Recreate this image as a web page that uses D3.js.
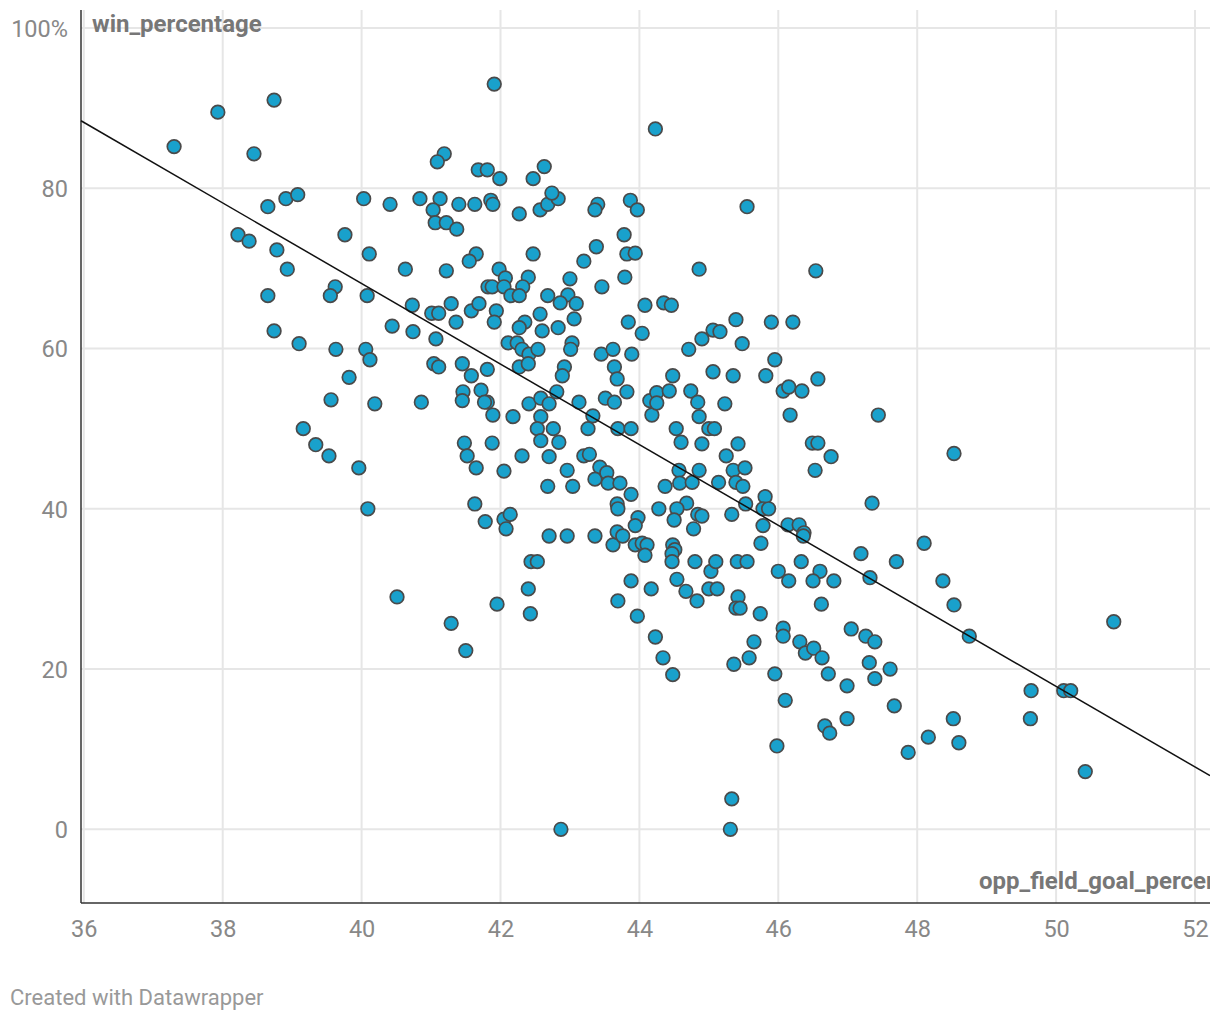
<!DOCTYPE html>
<html>
<head>
<meta charset="utf-8">
<script src="https://cdn.jsdelivr.net/npm/d3@7"></script>
<style>
  body { margin: 0; background: #fff; font-family: Roboto, "Noto Sans", sans-serif; }
  .tick text { fill: #888; font-size: 23.5px; font-family: Roboto, sans-serif; }
  .axis-title { fill: #777; font-size: 24px; font-weight: bold; }
  .credit { fill: #999; font-size: 22px; }
</style>
</head>
<body>
<div class="view1"></div>
<script>
// opponent field goal percentage (x) and win percentage (y), one entry per team season
const oppFgPct = [
  37.30, 37.93, 38.74, 38.45, 38.65, 38.91, 39.08, 40.03, 40.41, 38.22,
  38.38, 38.78, 38.93, 39.76, 40.11, 39.62, 39.55, 40.08, 38.65, 40.44,
  38.74, 40.63, 39.10, 39.63, 40.06, 40.12, 39.82, 39.56, 40.19, 39.16,
  39.34, 39.53, 39.96, 40.09, 40.51, 41.91, 41.19, 41.09, 41.68, 41.81,
  41.99, 42.47, 42.63, 44.23, 40.84, 41.13, 41.03, 41.40, 41.63, 41.86,
  41.89, 42.27, 42.57, 42.68, 42.83, 42.74, 43.40, 43.36, 43.87, 43.97,
  41.06, 41.22, 41.37, 43.78, 43.38, 43.20, 43.82, 43.94, 42.47, 41.65,
  41.55, 41.22, 41.98, 42.07, 41.82, 41.88, 42.05, 42.40, 42.32, 42.15,
  42.27, 43.00, 43.79, 43.46, 42.68, 42.97, 42.86, 43.09, 40.73, 41.01,
  41.11, 41.29, 41.58, 41.69, 41.94, 41.91, 41.36, 42.35, 42.27, 42.57,
  43.06, 42.83, 42.60, 43.84, 44.08, 40.74, 45.55, 44.86, 46.54, 44.35,
  44.46, 45.39, 45.90, 46.21, 45.06, 45.16, 41.07, 41.04, 41.11, 41.45,
  41.58, 41.81, 40.86, 41.46, 41.45, 41.72, 41.81, 41.77, 41.89, 42.18,
  41.48, 41.52, 41.88, 41.65, 42.05, 42.31, 42.11, 42.24, 42.31, 42.41,
  42.54, 42.27, 42.40, 43.03, 43.01, 42.92, 42.89, 42.81, 42.41, 42.58,
  42.70, 43.13, 42.58, 42.53, 42.76, 42.58, 42.84, 42.70, 42.96, 42.68,
  43.04, 43.26, 43.33, 43.20, 43.28, 43.45, 43.62, 43.89, 43.64, 43.68,
  43.82, 43.51, 43.64, 43.69, 43.88, 43.43, 43.36, 43.53, 43.55, 43.72,
  43.88, 43.68, 43.69, 44.04, 44.15, 44.18, 41.63, 41.78, 42.05, 42.14,
  42.08, 42.70, 42.96, 43.36, 43.62, 43.68, 43.76, 43.98, 43.94, 43.94,
  44.04, 44.11, 44.08, 42.44, 42.53, 43.88, 42.40, 44.71, 44.90, 45.48,
  45.95, 45.82, 45.06, 45.35, 44.48, 44.25, 44.43, 44.25, 44.74, 44.84,
  45.23, 44.86, 44.53, 44.60, 44.90, 45.00, 45.08, 45.42, 45.25, 46.07,
  46.15, 46.34, 46.57, 46.17, 47.44, 46.49, 46.57, 46.76, 46.53, 44.57,
  44.86, 44.58, 44.76, 44.37, 45.14, 45.35, 45.52, 45.39, 45.49, 44.68,
  44.28, 44.54, 44.50, 44.84, 44.90, 45.33, 45.53, 45.81, 45.78, 45.86,
  45.78, 44.78, 45.75, 46.14, 46.30, 46.37, 46.36, 47.19, 47.35, 47.70,
  44.48, 44.51, 44.47, 44.47, 44.80, 45.03, 45.10, 45.41, 45.55, 44.54,
  44.67, 45.00, 45.12, 46.00, 46.15, 46.33, 46.60, 46.50, 46.80, 47.32,
  48.53, 48.10, 48.37, 41.29, 41.50, 41.95, 42.43, 42.87, 43.69, 43.97,
  44.17, 44.83, 45.42, 45.39, 45.45, 45.74, 46.62, 44.23, 44.34, 44.48,
  45.36, 45.58, 45.65, 45.95, 46.07, 46.07, 46.10, 45.98, 46.31, 46.39,
  46.51, 46.63, 46.72, 46.99, 47.05, 47.26, 47.39, 47.31, 47.39, 47.61,
  47.67, 46.67, 46.74, 46.99, 45.33, 45.31, 48.53, 48.75, 50.83, 49.64,
  50.11, 50.21, 48.52, 49.63, 48.16, 48.60, 47.87, 50.42
];
const winPct = [
  85.2, 89.5, 91.0, 84.3, 77.7, 78.7, 79.2, 78.7, 78.0, 74.2,
  73.4, 72.3, 69.9, 74.2, 71.8, 67.7, 66.6, 66.6, 66.6, 62.8,
  62.2, 69.9, 60.6, 59.9, 59.9, 58.6, 56.4, 53.6, 53.1, 50.0,
  48.0, 46.6, 45.1, 40.0, 29.0, 93.0, 84.3, 83.3, 82.3, 82.3,
  81.2, 81.2, 82.7, 87.4, 78.7, 78.7, 77.3, 78.0, 78.0, 78.5,
  78.0, 76.8, 77.3, 78.0, 78.7, 79.4, 78.0, 77.3, 78.5, 77.3,
  75.7, 75.7, 74.9, 74.2, 72.7, 70.9, 71.8, 71.9, 71.8, 71.8,
  70.9, 69.7, 69.9, 68.8, 67.7, 67.7, 67.7, 68.9, 67.7, 66.6,
  66.6, 68.7, 68.9, 67.7, 66.6, 66.7, 65.7, 65.6, 65.4, 64.4,
  64.4, 65.6, 64.7, 65.6, 64.7, 63.3, 63.3, 63.3, 62.6, 64.3,
  63.7, 62.6, 62.2, 63.3, 65.4, 62.1, 77.7, 69.9, 69.7, 65.7,
  65.4, 63.6, 63.3, 63.3, 62.3, 62.1, 61.2, 58.1, 57.7, 58.1,
  56.6, 57.4, 53.3, 54.6, 53.5, 54.8, 53.3, 53.3, 51.7, 51.5,
  48.2, 46.6, 48.2, 45.1, 44.7, 46.6, 60.7, 60.7, 59.9, 59.3,
  59.9, 57.7, 58.1, 60.7, 59.9, 57.7, 56.6, 54.6, 53.1, 53.8,
  53.1, 53.3, 51.5, 50.0, 50.0, 48.5, 48.3, 46.5, 44.8, 42.8,
  42.8, 50.0, 51.6, 46.6, 46.8, 59.3, 59.9, 59.3, 57.7, 56.2,
  54.6, 53.8, 53.3, 50.0, 50.0, 45.2, 43.7, 44.5, 43.2, 43.2,
  41.8, 40.6, 40.0, 61.9, 53.5, 51.7, 40.6, 38.4, 38.7, 39.3,
  37.5, 36.6, 36.6, 36.6, 35.5, 37.1, 36.6, 38.9, 37.9, 35.5,
  35.7, 35.5, 34.2, 33.4, 33.4, 31.0, 30.0, 59.9, 61.2, 60.6,
  58.6, 56.6, 57.1, 56.6, 56.6, 54.5, 54.7, 53.2, 54.7, 53.3,
  53.1, 51.5, 50.0, 48.3, 48.1, 50.0, 50.0, 48.1, 46.6, 54.7,
  55.2, 54.7, 56.2, 51.7, 51.7, 48.2, 48.2, 46.5, 44.8, 44.8,
  44.8, 43.2, 43.3, 42.8, 43.3, 44.8, 45.1, 43.3, 42.8, 40.7,
  40.0, 40.0, 38.6, 39.3, 39.1, 39.3, 40.6, 41.5, 40.0, 40.0,
  37.9, 37.5, 35.7, 38.0, 38.0, 37.0, 36.6, 34.4, 40.7, 33.4,
  35.5, 34.9, 34.4, 33.4, 33.4, 32.2, 33.4, 33.4, 33.4, 31.2,
  29.7, 30.0, 30.0, 32.2, 31.0, 33.4, 32.2, 31.0, 31.0, 31.4,
  46.9, 35.7, 31.0, 25.7, 22.3, 28.1, 26.9, 0.0, 28.5, 26.6,
  30.0, 28.5, 29.0, 27.6, 27.6, 26.9, 28.1, 24.0, 21.4, 19.3,
  20.6, 21.4, 23.4, 19.4, 25.1, 24.1, 16.1, 10.4, 23.4, 22.0,
  22.6, 21.4, 19.4, 17.9, 25.0, 24.1, 23.4, 20.8, 18.8, 20.0,
  15.4, 12.9, 12.0, 13.8, 3.8, 0.0, 28.0, 24.1, 25.9, 17.3,
  17.3, 17.3, 13.8, 13.8, 11.5, 10.8, 9.6, 7.2
];
const xTicks = [36, 38, 40, 42, 44, 46, 48, 50, 52];
const yTicks = [0, 20, 40, 60, 80, 100];
const xTitle = "opp_field_goal_percentage";
const yTitle = "win_percentage";
const credit = "Created with Datawrapper";

class Scatter {

    constructor(xs, ys){
        this.points = xs.map((x, i) => ({x: x, y: ys[i]}));
        this.width = 1210;
        this.height = 1020;
        // plot frame (axis lines sit slightly left of the 36 tick)
        this.frame = {left: 81, right: 1210, top: 10, bottom: 903};
    }

    draw(){
        let svg = d3.select(".view1").append("svg")
            .attr("width", this.width)
            .attr("height", this.height);

        let x = d3.scaleLinear().domain([36, 52]).range([83.8, 1195]);
        let y = d3.scaleLinear().domain([0, 100]).range([829.3, 28.0]);
        let f = this.frame;

        //gridlines
        let grid = svg.append("g");
        grid.selectAll("line.v")
            .data(xTicks)
            .join("line")
            .attr("class", "v")
            .attr("x1", d => x(d)).attr("x2", d => x(d))
            .attr("y1", f.top).attr("y2", f.bottom)
            .attr("stroke", "#e6e6e6").attr("stroke-width", 2);
        grid.selectAll("line.h")
            .data(yTicks)
            .join("line")
            .attr("class", "h")
            .attr("x1", f.left).attr("x2", f.right)
            .attr("y1", d => y(d)).attr("y2", d => y(d))
            .attr("stroke", "#e6e6e6").attr("stroke-width", 2);

        //axes (only the labels are used, lines drawn separately)
        let xAxis = svg.append("g")
            .attr("transform", "translate(0," + (f.bottom + 5) + ")")
            .call(d3.axisBottom(x).tickValues(xTicks).tickSize(0).tickPadding(12));
        xAxis.select(".domain").remove();

        let yAxis = svg.append("g")
            .attr("transform", "translate(" + (f.left - 13) + ",0)")
            .call(d3.axisLeft(y).tickValues(yTicks).tickSize(0).tickPadding(0)
                .tickFormat(d => d === 100 ? "100%" : d));
        yAxis.select(".domain").remove();
        yAxis.selectAll(".tick text").attr("dy", "0.35em");

        svg.append("line")
            .attr("x1", f.left).attr("x2", f.left)
            .attr("y1", f.top).attr("y2", f.bottom)
            .attr("stroke", "#333").attr("stroke-width", 1.5);
        svg.append("line")
            .attr("x1", f.left).attr("x2", f.right)
            .attr("y1", f.bottom).attr("y2", f.bottom)
            .attr("stroke", "#333").attr("stroke-width", 1.5);

        //axis titles (the x title runs past the right edge, as in the original)
        svg.append("text").attr("class", "axis-title")
            .attr("x", 92).attr("y", 32).text(yTitle);
        svg.append("text").attr("class", "axis-title")
            .attr("x", 979).attr("y", 889).text(xTitle);

        //points
        svg.append("g").selectAll("circle")
            .data(this.points)
            .join("circle")
            .attr("cx", d => x(d.x))
            .attr("cy", d => y(d.y))
            .attr("r", 6.8)
            .attr("fill", "#19a1cc")
            .attr("stroke", "#4a4a4a")
            .attr("stroke-width", 1.7);

        //least squares trend line across the frame
        let mx = d3.mean(this.points, d => d.x);
        let my = d3.mean(this.points, d => d.y);
        let sxy = d3.sum(this.points, d => (d.x - mx) * (d.y - my));
        let sxx = d3.sum(this.points, d => (d.x - mx) * (d.x - mx));
        let slope = sxy / sxx;
        let icpt = my - slope * mx;
        let x0 = x.invert(f.left), x1 = x.invert(f.right);
        svg.append("line")
            .attr("x1", f.left).attr("y1", y(icpt + slope * x0))
            .attr("x2", f.right).attr("y2", y(icpt + slope * x1))
            .attr("stroke", "#111").attr("stroke-width", 1.5);

        svg.append("text").attr("class", "credit")
            .attr("x", 10).attr("y", 1005).text(credit);
    }
}

let chart = new Scatter(oppFgPct, winPct);
chart.draw();
</script>
</body>
</html>
